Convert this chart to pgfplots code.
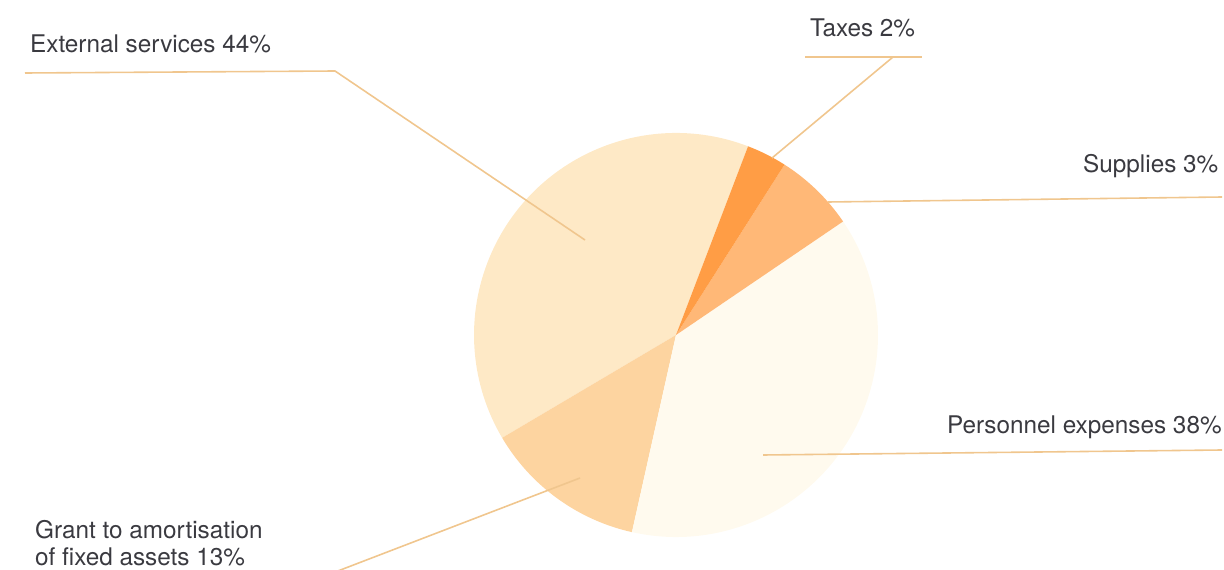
\documentclass[border=0pt]{standalone}
\usepackage{fontspec}
\setmainfont{TeX Gyre Heros}
\usepackage{pgfplots}
\pgfplotsset{compat=1.18}

\definecolor{cExt}{HTML}{FEE9C6}
\definecolor{cTax}{HTML}{FF9D45}
\definecolor{cSup}{HTML}{FFB877}
\definecolor{cPer}{HTML}{FFFAEE}
\definecolor{cGra}{HTML}{FDD4A0}
\definecolor{lead}{HTML}{F0C68E}
\definecolor{txt}{HTML}{3A3A40}

\tikzset{lbl/.style={anchor=base west, font=\fontsize{24.4}{28}\selectfont, text=txt, inner sep=0pt}}

\begin{document}
\begin{tikzpicture}
\useasboundingbox (0,0) rectangle (1224bp,570bp);
\clip (0,0) rectangle (1224bp,570bp);
\begin{axis}[
    scale only axis,
    width=1224bp, height=570bp,
    xmin=0, xmax=1224, ymin=0, ymax=570,
    axis lines=none,
]
% slices: start angle / end angle / colour (angles as drawn)
\foreach \a/\b/\c in {69.1/210.6/cExt, 210.6/257.4/cGra, 257.4/394.2/cPer, 34.2/57.5/cSup, 57.5/69.1/cTax}{
  \edef\temp{\noexpand\fill[\c] (axis cs:676,235) -- ++(\a:202bp) arc[start angle=\a, end angle=\b, radius=202bp] -- cycle;}
  \temp
}
% leader lines
\addplot[lead, line width=1.6pt, no marks] coordinates {(25,497) (335,499) (585,330)};
\addplot[lead, line width=1.6pt, no marks] coordinates {(805,513) (922,513)};
\addplot[lead, line width=1.6pt, no marks] coordinates {(893,513) (772,412)};
\addplot[lead, line width=1.6pt, no marks] coordinates {(828,368) (1222,373)};
\addplot[lead, line width=1.6pt, no marks] coordinates {(763,115) (1222,120)};
\addplot[lead, line width=1.6pt, no marks] coordinates {(580,92) (330,-4)};
% labels
\node[lbl] at (axis cs:30,517) {External services 44\%};
\node[lbl] at (axis cs:810,533) {Taxes 2\%};
\node[lbl] at (axis cs:1083,397) {Supplies 3\%};
\node[lbl] at (axis cs:947,137) {Personnel expenses 38\%};
\node[lbl] at (axis cs:35,32) {Grant to amortisation};
\node[lbl] at (axis cs:35,5) {of fixed assets 13\%};
\end{axis}
\end{tikzpicture}
\end{document}
